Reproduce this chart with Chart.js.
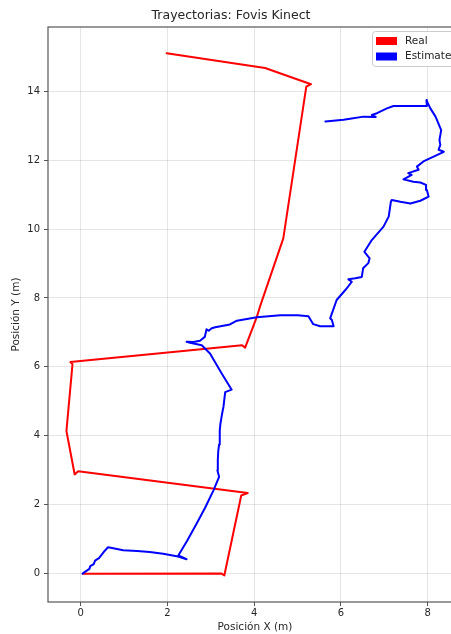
<!DOCTYPE html>
<html>
<head>
<meta charset="utf-8">
<script src="https://cdn.jsdelivr.net/npm/chart.js@4/dist/chart.umd.min.js"></script>
<style>
  html, body { margin: 0; padding: 0; background: #ffffff; overflow: hidden; }
  #wrap { width: 470px; height: 634px; }
</style>
</head>
<body>
<div id="wrap"><canvas id="traj" width="470" height="634"></canvas></div>
<script>
// Ground-truth path (metres)
const realX = [0.05, 3.24, 3.31, 3.70, 3.85, -0.06, -0.14, -0.33, -0.19, -0.24, 3.72, 3.79, 4.06, 4.13, 4.67, 5.20, 5.31, 4.25, 1.98];
const realY = [0.00, 0.01, -0.05, 2.27, 2.34, 2.97, 2.88, 4.14, 6.08, 6.14, 6.63, 6.56, 7.45, 7.74, 9.73, 14.13, 14.20, 14.67, 15.10];

// Visual-odometry estimate (metres)
const estX = [0.04, 0.08, 0.14, 0.20, 0.22, 0.30, 0.33, 0.42, 0.48, 0.55, 0.63, 0.75, 0.98, 1.30, 1.59, 1.90, 2.21, 2.44, 2.25,
  2.45, 2.67, 2.87, 3.06, 3.19, 3.15, 3.16, 3.17, 3.19, 3.20, 3.21, 3.22, 3.24, 3.26, 3.29, 3.33, 3.48, 3.25, 2.98, 2.79, 2.52, 2.44,
  2.60, 2.75, 2.86, 2.90, 2.95, 3.02, 3.10, 3.44, 3.60, 4.06, 4.60, 5.00, 5.25, 5.36, 5.52, 5.83, 5.79, 5.75,
  5.90, 6.10, 6.25, 6.17, 6.33, 6.48, 6.51, 6.63, 6.66, 6.54, 6.71, 6.98, 7.10, 7.15, 7.17,
  7.37, 7.60, 7.83, 8.02, 7.98, 7.96, 7.83, 7.67, 7.44, 7.63, 7.55, 7.79, 7.75, 7.90,
  8.37, 8.25, 8.29, 8.27, 8.31, 8.18, 8.06, 7.97, 7.98, 7.60, 7.21, 7.06, 6.83, 6.71, 6.80, 6.52, 6.21, 6.06, 5.64];
const estY = [0.00, 0.04, 0.09, 0.14, 0.22, 0.28, 0.38, 0.45, 0.55, 0.66, 0.77, 0.74, 0.68, 0.66, 0.63, 0.58, 0.51, 0.42, 0.53,
  0.95, 1.45, 1.92, 2.42, 2.81, 3.00, 3.30, 3.55, 3.75, 3.95, 4.16, 4.35, 4.50, 4.65, 4.84, 5.27, 5.34, 5.81, 6.39, 6.63, 6.70, 6.73,
  6.72, 6.76, 6.87, 7.09, 7.05, 7.12, 7.15, 7.23, 7.34, 7.44, 7.50, 7.50, 7.47, 7.24, 7.18, 7.18, 7.36, 7.41,
  7.94, 8.23, 8.47, 8.54, 8.57, 8.61, 8.86, 9.01, 9.15, 9.34, 9.68, 10.07, 10.36, 10.79, 10.84,
  10.79, 10.74, 10.82, 10.94, 11.13, 11.28, 11.35, 11.37, 11.44, 11.57, 11.62, 11.72, 11.81, 11.96,
  12.24, 12.30, 12.44, 12.58, 12.87, 13.26, 13.50, 13.74, 13.57, 13.57, 13.57, 13.50, 13.36, 13.31, 13.25, 13.26, 13.20, 13.17, 13.12];

const xRange = [-0.755, 8.79];
const yRange = [-0.82, 15.86];

const toPoints = (xs, ys) => xs.map((x, i) => ({ x: x, y: ys[i] }));

const FONT = "'DejaVu Sans', sans-serif";
const INK = '#262626';

// Axes frame (all four spines) drawn around the plotting area
const frame = {
  id: 'frame',
  afterDatasetsDraw(chart) {
    const { ctx, chartArea: a } = chart;
    ctx.save();
    ctx.strokeStyle = '#555555';
    ctx.lineWidth = 1.2;
    ctx.strokeRect(a.left, a.top, a.right - a.left, a.bottom - a.top);
    ctx.restore();
  }
};

// Boxed legend in the upper-right corner of the plot
const boxLegend = {
  id: 'boxLegend',
  afterDraw(chart) {
    const { ctx, chartArea: a } = chart;
    const sets = chart.data.datasets;
    const w = 90, h = 35, x0 = a.right - w, y0 = a.top + 4;
    ctx.save();
    ctx.fillStyle = 'rgba(255,255,255,0.85)';
    ctx.strokeStyle = '#cccccc';
    ctx.lineWidth = 1;
    ctx.beginPath();
    ctx.roundRect(x0 + 0.5, y0 + 0.5, w, h, 3);
    ctx.fill();
    ctx.stroke();
    ctx.font = '10.5px ' + FONT;
    ctx.textBaseline = 'middle';
    sets.forEach((ds, i) => {
      const cy = y0 + 10 + i * 15.5;
      ctx.fillStyle = ds.borderColor;
      ctx.fillRect(x0 + 4, cy - 4, 21, 8);
      ctx.fillStyle = INK;
      ctx.fillText(ds.label, x0 + 33, cy);
    });
    ctx.restore();
  }
};

const lineStyle = { showLine: true, borderWidth: 2, pointRadius: 0, tension: 0,
                    borderJoinStyle: 'round', borderCapStyle: 'round' };

new Chart(document.getElementById('traj'), {
  type: 'scatter',
  data: {
    datasets: [
      Object.assign({ label: 'Real', data: toPoints(realX, realY), borderColor: '#ff0000',
        backgroundColor: '#ff0000', order: 2 }, lineStyle),
      Object.assign({ label: 'Estimate', data: toPoints(estX, estY), borderColor: '#0000ff',
        backgroundColor: '#0000ff', order: 1 }, lineStyle)
    ]
  },
  options: {
    responsive: false,
    animation: false,
    layout: { padding: { left: 0, right: 8, top: 0, bottom: 0 } },
    plugins: {
      legend: { display: false },
      tooltip: { enabled: false },
      title: {
        display: true,
        text: 'Trayectorias: Fovis Kinect',
        color: INK,
        font: { family: FONT, size: 12.5, weight: 'normal' },
        padding: { top: 8, bottom: 4 }
      }
    },
    scales: {
      x: {
        type: 'linear',
        min: xRange[0], max: xRange[1],
        afterFit(s) { s.height = 32; },
        border: { display: false },
        grid: { color: 'rgba(0,0,0,0.1)', tickColor: '#555555', tickLength: 4, drawTicks: true },
        ticks: { stepSize: 2, includeBounds: false, color: INK, padding: 1,
                 font: { family: FONT, size: 10 } },
        title: { display: true, text: 'Posición X (m)', color: INK,
                 font: { family: FONT, size: 10.5 }, padding: { top: 0, bottom: 0 } }
      },
      y: {
        type: 'linear',
        min: yRange[0], max: yRange[1],
        afterFit(s) { s.width = 48; },
        border: { display: false },
        grid: { color: 'rgba(0,0,0,0.1)', tickColor: '#555555', tickLength: 4, drawTicks: true },
        ticks: { stepSize: 2, includeBounds: false, color: INK, padding: 4,
                 font: { family: FONT, size: 10 } },
        title: { display: true, text: 'Posición Y (m)', color: INK,
                 font: { family: FONT, size: 10.5 }, padding: { top: 10, bottom: 0 } }
      }
    }
  },
  plugins: [frame, boxLegend]
});
</script>
</body>
</html>
